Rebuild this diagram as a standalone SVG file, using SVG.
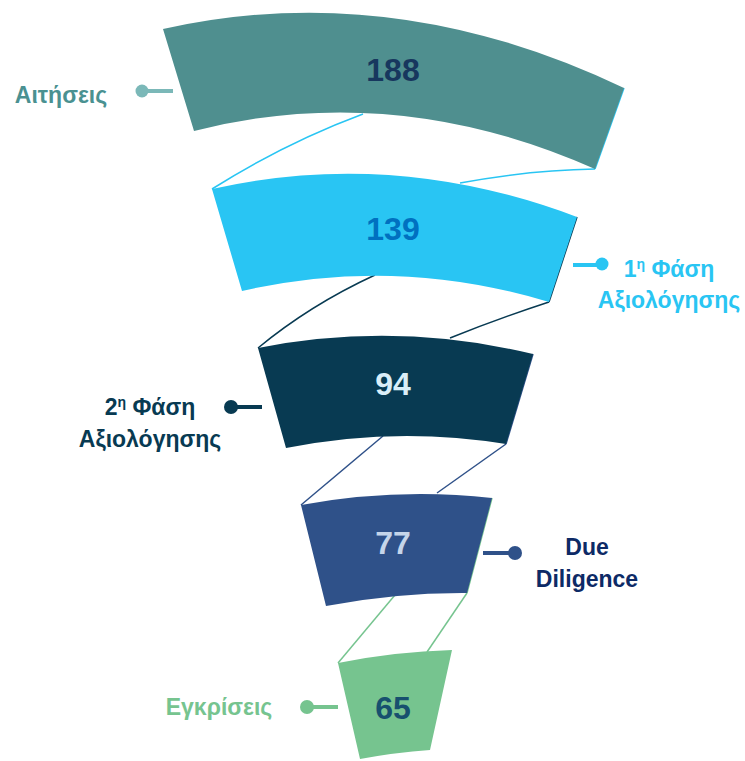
<svg xmlns="http://www.w3.org/2000/svg" width="745" height="761" viewBox="0 0 745 761">
<style>
text{font-family:"Liberation Sans",Arial,sans-serif;font-weight:bold;}
.num{font-size:32px;text-anchor:middle;}
.lbl{font-size:23px;text-anchor:middle;}
.conn path{fill:none;stroke-width:1.5;}
.lead{stroke-width:4;fill:none;}
</style>
<rect width="745" height="761" fill="#ffffff"/>
<g id="connectors" class="conn">
<path d="M212,189 Q285,143 363,114" stroke="#29C5F3"/>
<path d="M595,169 Q530,170 460,183" stroke="#29C5F3"/>
<path d="M624,88 L595,169" stroke="#29C5F3"/>
<path d="M258,348 Q310,305 375,275" stroke="#083A52"/>
<path d="M549,302 Q500,318 450,338" stroke="#083A52"/>
<path d="M577,217 L549,302" stroke="#083A52"/>
<path d="M301,505 L383,436" stroke="#2F5189"/>
<path d="M506,444 L437,493" stroke="#2F5189"/>
<path d="M533,354 L506,444" stroke="#2F5189"/>
<path d="M338,663 L395,595" stroke="#76C48F"/>
<path d="M467,593 L427,652" stroke="#76C48F"/>
<path d="M492,498 L467,593" stroke="#76C48F"/>
</g>
<g id="node-aitiseis">
<path d="M163,29 Q392.5,-22.5 624,88 L595,169 Q394.5,80 194,131 Z" fill="#4F8F8F"/>
<text class="num" x="393" y="81" fill="#17375E">188</text>
<path class="lead" d="M142,91 H173" stroke="#7BB8B8"/>
<circle cx="142" cy="91" r="6.5" fill="#7BB8B8"/>
<text class="lbl" x="61" y="103" fill="#4A9191">Αιτήσεις</text>
</g>
<g id="node-phase1">
<path d="M212,189 Q394.5,148 577,217 L549,302 Q395.5,255.5 242,291 Z" fill="#29C5F3"/>
<text class="num" x="393" y="240" fill="#0070C0">139</text>
<path class="lead" d="M573,265 H602" stroke="#29C5F3"/>
<circle cx="602" cy="264" r="6.5" fill="#29C5F3"/>
<text class="lbl" x="669" y="277" fill="#29C5F3">1<tspan font-size="14" dy="-8">η</tspan><tspan dy="8"> Φάση</tspan></text>
<text class="lbl" x="669" y="308" fill="#29C5F3">Αξιολόγησης</text>
</g>
<g id="node-phase2">
<path d="M258,348 Q395.5,321 533,354 L506,444 Q396,426 286,448 Z" fill="#083A52"/>
<text class="num" x="393" y="395" fill="#DAEEF8">94</text>
<path class="lead" d="M231,407 H262" stroke="#083A52"/>
<circle cx="231" cy="407" r="7" fill="#083A52"/>
<text class="lbl" x="150" y="415" fill="#083A52">2<tspan font-size="14" dy="-8">η</tspan><tspan dy="8"> Φάση</tspan></text>
<text class="lbl" x="150" y="447" fill="#083A52">Αξιολόγησης</text>
</g>
<g id="node-due">
<path d="M301,505 Q396.5,487.5 492,498 L467,593 Q396.5,592.5 326,606 Z" fill="#2F5189"/>
<text class="num" x="393" y="554" fill="#C5D5EA">77</text>
<path class="lead" d="M483,553 H515" stroke="#2F5189"/>
<circle cx="515" cy="553" r="7" fill="#2F5189"/>
<text class="lbl" x="587" y="555" fill="#0D2A66">Due</text>
<text class="lbl" x="587" y="587" fill="#0D2A66">Diligence</text>
</g>
<g id="node-egkriseis">
<path d="M338,663 Q395,651.5 452,650 L430,750 Q395,752.5 360,759 Z" fill="#76C48F"/>
<text class="num" x="393" y="719" fill="#17506E">65</text>
<path class="lead" d="M307,707 H338" stroke="#76C48F"/>
<circle cx="307" cy="707" r="7" fill="#76C48F"/>
<text class="lbl" x="219" y="715" fill="#76C48F">Εγκρίσεις</text>
</g>
</svg>
